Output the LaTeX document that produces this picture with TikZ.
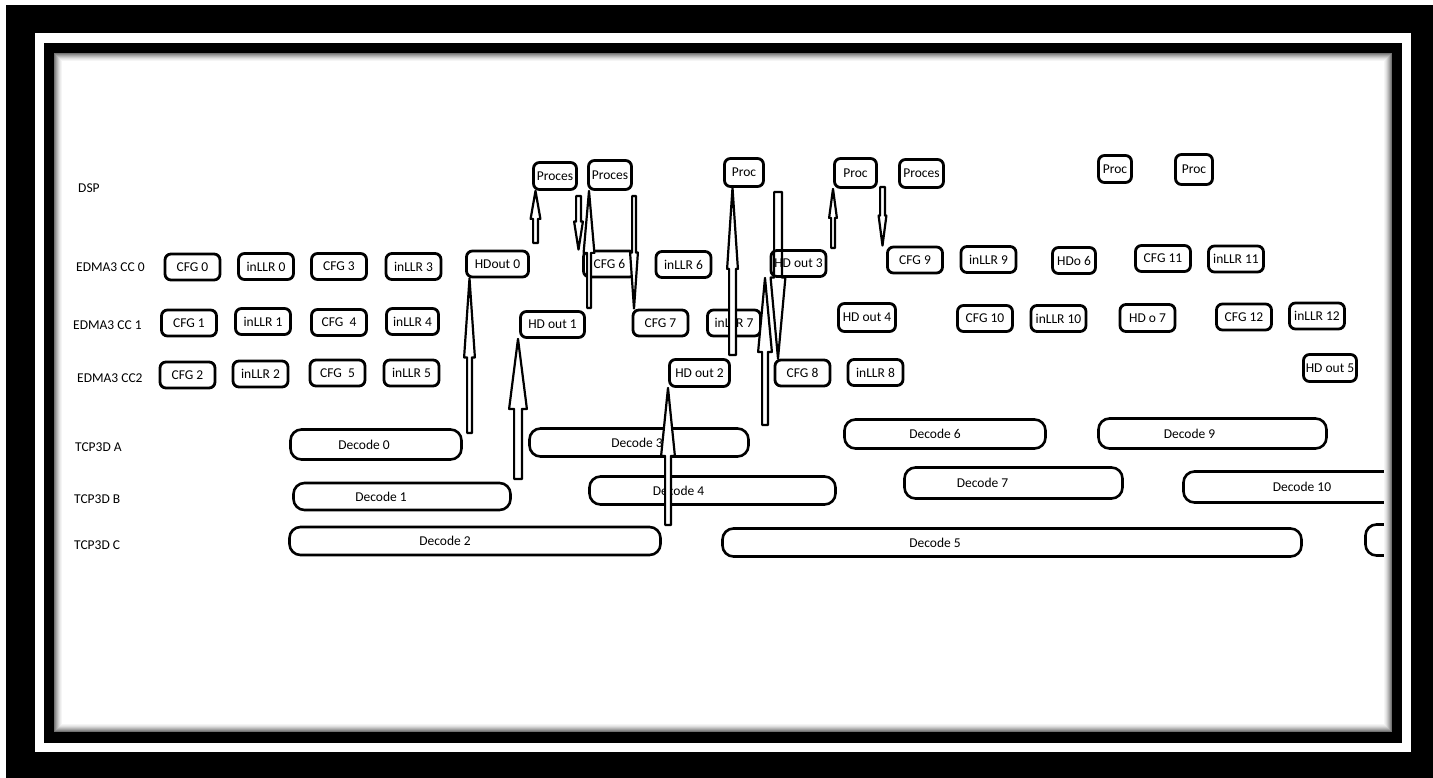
\documentclass[tikz,border=0pt]{standalone}
\usepackage{fontspec}
\setmainfont{Carlito}
\usetikzlibrary{calc}

% outlined block arrow: tail, tip, head length, shaft half width, head half width
\newcommand{\blockarrow}[6][]{%
  \path (#3) coordinate (ba tip);
  \path ($(ba tip)!#4!(#2)$) coordinate (ba base);
  \draw[blockarrow, #1] ($(#2)!#5!90:(ba tip)$) -- ($(ba base)!#5!90:(ba tip)$)
    -- ($(ba base)!#6!90:(ba tip)$) -- (ba tip) -- ($(ba base)!#6!-90:(ba tip)$)
    -- ($(ba base)!#5!-90:(ba tip)$) -- ($(#2)!#5!-90:(ba tip)$) -- cycle;
}

\begin{document}
\begin{tikzpicture}[x=1pt, y=-1pt,
    box/.style={draw, rounded corners=6pt, line width=2.8pt, minimum width=55pt, minimum height=26pt, inner sep=0pt, font=\fontsize{13.5}{16}\selectfont},
    proc/.style={box, minimum width=43pt, minimum height=27pt},
    decode/.style={draw, rounded corners=11pt, line width=2.6pt, minimum height=28pt, inner sep=0pt},
    dectext/.style={inner sep=0pt, font=\fontsize{13.5}{16}\selectfont},
    rowlbl/.style={anchor=west, inner sep=0pt, font=\fontsize{13.5}{16}\selectfont},
    blockarrow/.style={draw, fill=white, line width=2.2pt, line join=round}
]
\useasboundingbox (0,0) rectangle (1433,778);

% Frame
\fill[white] (0,0) rectangle (1433,778);
\fill[black] (6,5) rectangle (1433,778);
\fill[white] (35,33) rectangle (1411,752);
\fill[black] (44,43) rectangle (1402,743);
\fill[white] (54,53) rectangle (1392,732);

\begin{scope}
\clip (54,53) rectangle (1392,732);

% Row labels
\node[rowlbl] (dsp) at (78,188) {DSP};
\node[rowlbl] (cc0) at (76,267) {EDMA3 CC 0};
\node[rowlbl] (cc1) at (73,325) {EDMA3 CC 1};
\node[rowlbl] (cc2) at (77,378) {EDMA3 CC2};
\node[rowlbl] (tcpa) at (75,447) {TCP3D A};
\node[rowlbl] (tcpb) at (74,499) {TCP3D B};
\node[rowlbl] (tcpc) at (74,545) {TCP3D C};

% DSP
\node[proc] (pr0) at (555,176) {Proces};
\node[proc, minimum height=29pt] (pr1) at (610,175) {Proces};
\node[proc, minimum width=39pt, minimum height=28pt] (pr2) at (744,172.5) {Proc};
\node[proc, minimum width=42pt, minimum height=29pt] (pr3) at (855.5,173) {Proc};
\node[proc, minimum width=44pt, minimum height=28pt] (pr4) at (921.5,173.5) {Proces};
\node[proc, minimum width=33pt] (pr5) at (1115,169) {Proc};
\node[proc, minimum width=37pt, minimum height=30pt] (pr6) at (1194,169.5) {Proc};

% EDMA3 CC 0
\node[box] (cfg0) at (192.5,267) {CFG 0};
\node[box] (llr0) at (266,266.5) {inLLR 0};
\node[box] (cfg3) at (339,266.5) {CFG 3};
\node[box] (llr3) at (413.5,266.5) {inLLR 3};
\node[box, minimum width=62pt] (hdo0) at (497.5,264) {HDout 0};
\node[box, minimum width=52pt] (cfg6) at (609.5,264) {CFG 6};
\node[box] (llr6) at (683.5,264.5) {inLLR 6};
\node[box] (hdo3) at (798.5,263.5) {HD out 3};
\node[box] (cfg9) at (915,260) {CFG 9};
\node[box] (llr9) at (988.5,259.5) {inLLR 9};
\node[box, minimum width=43pt] (hdo6) at (1074,260.5) {HDo 6};
\node[box] (cfg11) at (1163,258.5) {CFG 11};
\node[box] (llr11) at (1236,259) {inLLR 11};

% EDMA3 CC 1
\node[box] (cfg1) at (189,323) {CFG 1};
\node[box] (llr1) at (263,321.5) {inLLR 1};
\node[box] (cfg4) at (339,322.5) {CFG\ \ 4};
\node[box, minimum width=52pt] (llr4) at (412.5,321.5) {inLLR 4};
\node[box, minimum width=64pt] (hdo1) at (552.5,324.5) {HD out 1};
\node[box] (cfg7) at (660.5,323) {CFG 7};
\node[box, minimum width=53pt] (llr7) at (734,323) {inLLR 7};
\node[box, minimum width=57pt, minimum height=28pt] (hdo4) at (867,317.5) {HD out 4};
\node[box] (cfg10) at (985,318.5) {CFG 10};
\node[box] (llr10) at (1058.5,318.5) {inLLR 10};
\node[box, minimum height=27pt] (hdo7) at (1147.5,318) {HD o 7};
\node[box] (cfg12) at (1244,317) {CFG 12};
\node[box] (llr12) at (1317,316) {inLLR 12};

% EDMA3 CC2
\node[box] (cfg2) at (187.5,375) {CFG 2};
\node[box] (llr2) at (260.5,374) {inLLR 2};
\node[box] (cfg5) at (337.5,373) {CFG\ \ 5};
\node[box] (llr5) at (411.5,373) {inLLR 5};
\node[box, minimum width=60pt, minimum height=27pt] (hdo2) at (699.5,373) {HD out 2};
\node[box] (cfg8) at (802.5,373) {CFG 8};
\node[box] (llr8) at (875.5,372.5) {inLLR 8};
\node[box, minimum width=53pt, minimum height=27pt] (hdo5) at (1330,368) {HD out 5};

% TCP3D
\node[decode, minimum width=171pt, minimum height=30pt, label={[dectext, xshift=-12pt]center:Decode 0}] (dec0) at (376,444.5) {};
\node[decode, minimum width=217pt, minimum height=27pt, label={[dectext, xshift=-21pt]center:Decode 1}] (dec1) at (402,496.5) {};
\node[decode, minimum width=371pt, label={[dectext, xshift=-30pt]center:Decode 2}] (dec2) at (475,541) {};
\node[decode, minimum width=219pt, label={[dectext, xshift=-2pt]center:Decode 3}] (dec3) at (639,442.5) {};
\node[decode, minimum width=246pt, label={[dectext, xshift=-34pt]center:Decode 4}] (dec4) at (712.5,490.5) {};
\node[decode, minimum width=579pt, label={[dectext, xshift=-77pt]center:Decode 5}] (dec5) at (1012,542.5) {};
\node[decode, minimum width=201pt, minimum height=29pt, label={[dectext, xshift=-10pt]center:Decode 6}] (dec6) at (945,434) {};
\node[decode, minimum width=218pt, minimum height=31pt, label={[dectext, xshift=-31pt]center:Decode 7}] (dec7) at (1013.5,483) {};
\node[decode, minimum width=228pt, minimum height=30pt, label={[dectext, xshift=-23pt]center:Decode 9}] (dec9) at (1212.5,433.5) {};
\node[decode, minimum width=257pt, minimum height=31pt, label={[dectext, xshift=-10pt]center:Decode 10}] (dec10) at (1312,487) {};
\node[decode, minimum width=197pt, minimum height=31pt] (dec11) at (1464,540) {};

% Arrows
\coordinate (a1) at (469.5,433);
\coordinate (a2) at (518,479);
\coordinate (a3) at (535.5,243);
\coordinate (a4) at (578.5,196);
\coordinate (a5) at (589,308);
\coordinate (a6) at (634,196);
\coordinate (a7) at (732.5,355);
\coordinate (a8) at (778,192);
\coordinate (a9) at (765,425);
\coordinate (a10) at (668,525);
\coordinate (a11) at (833,248);
\coordinate (a12) at (882.5,187);

\blockarrow{a1}{a1 |- hdo0.south}{79pt}{2.4pt}{5.4pt}
\blockarrow{a2}{a2 |- hdo1.south}{70pt}{3.9pt}{8.9pt}
\blockarrow{a3}{a3 |- pr0.south}{28pt}{2.4pt}{4.9pt}
\blockarrow{a4}{a4 |- cfg6.north}{28pt}{2.4pt}{4.4pt}
\blockarrow{a5}{a5 |- pr1.south}{62pt}{1.9pt}{5.4pt}
\blockarrow{a6}{a6 |- cfg7.north}{56pt}{1.9pt}{3.9pt}
\blockarrow{a7}{a7 |- pr2.south}{81pt}{3.4pt}{5.4pt}
\blockarrow[fill=none]{a8}{a8 |- cfg8.north}{81pt}{3.9pt}{7.4pt}
\blockarrow{a9}{a9 |- hdo3.south}{74pt}{2.9pt}{6.9pt}
\blockarrow{a10}{a10 |- hdo2.south}{68pt}{2.9pt}{6.9pt}
\blockarrow{a11}{a11 |- pr3.south}{29pt}{1.9pt}{3.9pt}
\blockarrow{a12}{a12 |- cfg9.north}{30pt}{2.4pt}{3.9pt}

% inner shadow
\foreach \d/\g in {0.5/55,1.5/45,2.5/36,3.5/28,4.5/20,5.5/13,6.5/8,7.5/4}
  \draw[black!\g, line width=1pt] ({54+\d},{53+\d}) rectangle ({1392-\d},{732-\d});
\end{scope}

\end{tikzpicture}
\end{document}
